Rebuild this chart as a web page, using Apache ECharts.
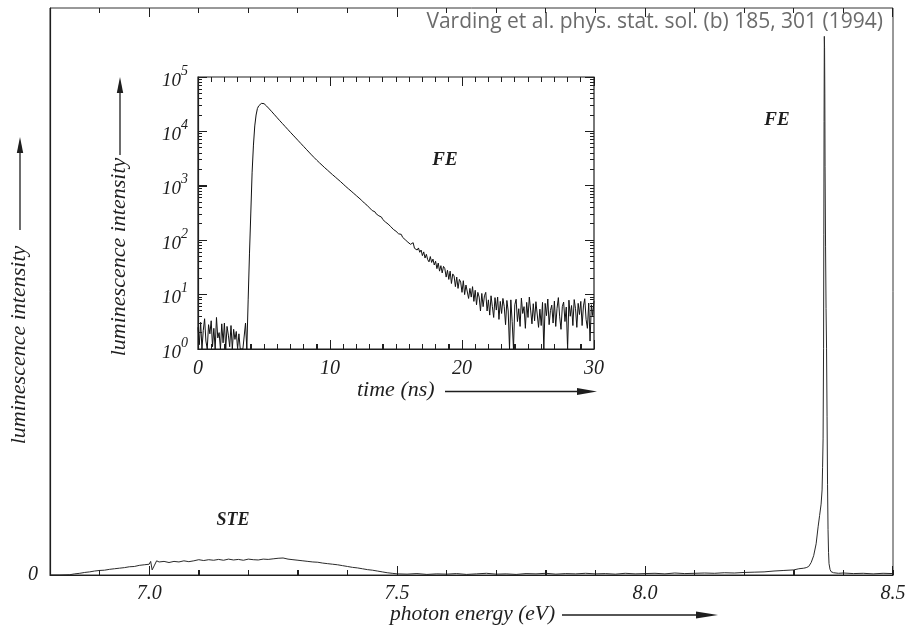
<!DOCTYPE html>
<html>
<head>
<meta charset="utf-8">
<script src="https://cdn.jsdelivr.net/npm/echarts@6/dist/echarts.min.js"></script>
<style>
  html, body { margin: 0; padding: 0; background: #fff; }
  #chart { width: 905px; height: 627px; }
</style>
</head>
<body>
<div id="chart"></div>
<script>
// ---------------- data ----------------
// Main spectrum: photon energy (eV) vs luminescence intensity (arb. units)
const mainEnergy = [
  6.80,6.82,6.84,6.85,6.86,6.87,6.88,6.89,6.90,6.91,
  6.92,6.93,6.94,6.95,6.96,6.97,6.98,6.99,7.00,7.003,
  7.006,7.010,7.015,7.02,7.03,7.04,7.05,7.06,7.07,7.08,
  7.09,7.10,7.11,7.12,7.13,7.14,7.15,7.16,7.17,7.18,
  7.19,7.20,7.21,7.22,7.23,7.24,7.25,7.26,7.27,7.28,
  7.29,7.30,7.31,7.32,7.33,7.34,7.35,7.36,7.37,7.38,
  7.39,7.40,7.41,7.42,7.43,7.44,7.45,7.46,7.47,7.48,
  7.49,7.50,7.52,7.54,7.56,7.58,7.60,7.62,7.64,7.66,
  7.68,7.70,7.72,7.74,7.76,7.78,7.80,7.82,7.84,7.86,
  7.88,7.90,7.92,7.94,7.96,7.98,8.00,8.02,8.04,8.06,
  8.08,8.10,8.12,8.14,8.16,8.18,8.20,8.22,8.24,8.26,
  8.28,8.30,8.31,8.32,8.325,8.33,8.335,8.34,8.345,8.349,
  8.352,8.355,8.357,8.358,8.359,8.360,8.3605,8.361,8.3615,8.362,
  8.3625,8.363,8.364,8.365,8.366,8.367,8.368,8.369,8.370,8.371,
  8.373,8.375,8.38,8.39,8.40,8.42,8.44,8.46,8.48,8.50
];
const mainIntensity = [
  0,0,0.05,0.2,0.3,0.45,0.55,0.7,0.8,0.85,
  1.0,1.1,1.2,1.3,1.45,1.5,1.7,1.8,1.9,2.4,
  0.9,1.6,2.5,2.3,2.4,2.2,2.4,2.3,2.5,2.35,
  2.5,2.7,2.55,2.7,2.6,2.75,2.6,2.8,2.65,2.75,
  2.6,2.8,2.7,2.65,2.8,2.75,2.85,2.95,3.0,2.8,
  2.7,2.6,2.5,2.4,2.3,2.25,2.1,2.0,1.9,1.8,
  1.65,1.5,1.35,1.25,1.1,0.95,0.85,0.7,0.55,0.4,
  0.3,0.2,0.15,0.25,0.1,0.2,0.15,0.25,0.1,0.2,
  0.3,0.15,0.2,0.1,0.25,0.2,0.3,0.15,0.25,0.2,
  0.3,0.2,0.25,0.15,0.3,0.2,0.25,0.3,0.2,0.35,
  0.25,0.3,0.35,0.3,0.4,0.35,0.45,0.5,0.55,0.7,
  0.8,0.9,1.1,1.2,1.3,1.5,2.2,3.4,5.5,8.5,
  10.5,12.5,15,19,24,40,60,80,95,93,
  85,72,58,47,40,28,16,8,4,2,
  1,0.6,0.4,0.3,0.35,0.25,0.3,0.2,0.3,0.25
];

// Inset: FE decay curve, counts per 0.1 ns channel from t = 0 to 30 ns
const insetChannelWidth = 0.1;   // ns
const insetCounts = [
  2.5,1.2,3.1,1.0,2.2,3.6,1.4,1.0,2.8,1.9,
  3.3,1.1,2.4,1.0,3.8,1.6,2.0,1.0,2.9,1.3,
  3.0,1.0,2.6,1.8,1.1,2.7,1.0,2.3,1.5,2.1,
  1.0,1.9,1.0,1.0,1.0,1.0,3.0,1.0,8,56,
  316,1780,5600,12600,20000,26300,29500,31600,32700,33100,
  32400,30900,29200,27500,25900,24300,22900,21500,20200,19000,
  17800,16700,15700,14800,13900,13100,12300,11500,10900,10200,
  9640,9080,8550,8050,7590,7140,6730,6340,5970,5620,
  5300,4990,4700,4430,4170,3930,3700,3490,3300,3120,
  2950,2800,2650,2520,2390,2260,2150,2050,1950,1850,
  1760,1675,1596,1521,1449,1380,1315,1253,1194,1138,
  1075,1030,970,935,880,850,800,772,725,702,
  658,638,596,578,540,522,482,488,440,440,
  392,386,350,352,333,305,302,281,264,266,
  240,242,216,214,198,200,178,183,158,166,
  146,150,131,139,128,113,119,102,106,92,
  99,84,80,90,71,77,66,72,60,66,
  52,61,47,55,44,40,50,39,45,35,
  41,30,38,27,34,25,33,30,21,28,
  19,27,16,24,22,14,21,13,19,17,
  11,18,10,15,16,8.5,13,9,14,7.5,
  12,6.5,11,9,5,10.5,6,9.5,11,5,
  8,4.2,9.5,6,3.8,8.8,5.2,9,3.5,7.5,
  4.5,8.5,6,2.8,7.8,5,1.0,8,3.2,1.0,
  6.5,8.2,3.2,5.5,2.6,8.6,4.5,6.0,2.4,7.2,
  3.8,9.0,5.2,2.9,6.8,3.3,7.4,8.0,2.5,5.4,
  2.7,7.2,1.0,6.9,4.1,8.3,2.8,5.1,6.4,3.0,
  7.6,2.6,5.6,8.8,3.9,2.3,6.0,7.3,3.2,5.9,
  1.0,7.9,4.0,6.3,2.7,8.1,5.5,2.5,6.9,4.3,
  7.5,2.7,6.2,8.4,3.5,2.4,7.0,1.4,6.5,4.1,
  7.7
];

// tick labels
const mainXTicks = [7.0, 7.5, 8.0, 8.5];
const mainYTicks = [0];
const insetXTicks = [0, 10, 20, 30];
const insetDecades = [1, 10, 100, 1000, 10000, 100000];

// ---------------- build ----------------
const mainData = mainEnergy.map((e, i) => [e, mainIntensity[i]]);
const insetData = insetCounts.map((c, i) => [+(i * insetChannelWidth).toFixed(2), c]);

// tick mark lists: [x, y, length]
const mainTickMarks = [];
for (let k = 68; k <= 85; k++) mainTickMarks.push([k / 10, 0, 5]);
mainXTicks.forEach(v => mainTickMarks.push([v, 0, 9]));
const insetXTickMarks = [];
for (let k = 0; k <= 30; k++) insetXTickMarks.push([k, 1, 5]);
insetXTicks.forEach(v => insetXTickMarks.push([v, 1, 9]));
const insetYTickMarks = [];
insetDecades.slice(0, -1).forEach(d => { for (let k = 2; k < 10; k++) insetYTickMarks.push([0, d * k, 4]); });
insetDecades.forEach(v => insetYTickMarks.push([0, v, 9]));

const serif = "'Liberation Serif', 'DejaVu Serif', serif";
const ink = '#1e1e1e';
const tickFont = { fontFamily: serif, fontStyle: 'italic', fontSize: 20, color: ink };

// vertical tick marks (filled 1px rects) at bottom & top of a grid, pointing inward
function xTickRenderer(yBottom, yTop) {
  return function (params, api) {
    const v = api.value(0), len = api.value(2);
    const pb = api.coord([v, yBottom]), pt = api.coord([v, yTop]);
    const x = Math.floor(pb[0]);
    return { type: 'group', children: [
      { type: 'rect', shape: { x: x, y: pb[1] - len, width: 1, height: len }, style: { fill: ink } },
      { type: 'rect', shape: { x: x, y: pt[1], width: 1, height: len }, style: { fill: ink } }
    ] };
  };
}
// horizontal tick marks at left & right of a grid, pointing inward
function yTickRenderer(xLeft, xRight) {
  return function (params, api) {
    const v = api.value(1), len = api.value(2);
    const pl = api.coord([xLeft, v]), pr = api.coord([xRight, v]);
    const y = Math.floor(pl[1]);
    return { type: 'group', children: [
      { type: 'rect', shape: { x: pl[0], y: y, width: len, height: 1 }, style: { fill: ink } },
      { type: 'rect', shape: { x: pr[0] - len, y: y, width: len, height: 1 }, style: { fill: ink } }
    ] };
  };
}

const option = {
  animation: false,
  backgroundColor: '#fff',
  grid: [
    { left: 50, top: 8, right: 12, bottom: 52, show: true, borderColor: '#333', borderWidth: 1, backgroundColor: 'transparent', containLabel: false, outerBoundsMode: 'none' },
    { left: 198, top: 77, width: 396, height: 272, show: true, borderColor: ink, borderWidth: 1.2, backgroundColor: 'transparent', containLabel: false, outerBoundsMode: 'none' }
  ],
  xAxis: [
    {
      type: 'value', gridIndex: 0, min: 6.8, max: 8.5, interval: 0.1,
      axisLine: { show: true, onZero: false, lineStyle: { color: ink, width: 1.2 } },
      axisTick: { show: true, inside: true, length: 5, lineStyle: { color: ink, width: 1 } },
      axisLabel: Object.assign({ show: true, customValues: mainXTicks, margin: 9, formatter: v => v.toFixed(1) }, tickFont),
      splitLine: { show: false }
    },
    {
      type: 'value', gridIndex: 1, min: 0, max: 30, interval: 1,
      axisLine: { show: true, onZero: false, lineStyle: { color: ink, width: 1.2 } },
      axisTick: { show: true, inside: true, length: 5, lineStyle: { color: ink, width: 1 } },
      axisLabel: Object.assign({ show: true, customValues: insetXTicks, margin: 10 }, tickFont),
      splitLine: { show: false }
    }
  ],
  yAxis: [
    {
      type: 'value', gridIndex: 0, min: 0, max: 100,
      axisLine: { show: true, onZero: false, lineStyle: { color: ink, width: 1.2 } },
      axisTick: { show: false },
      axisLabel: Object.assign({ show: true, customValues: mainYTicks, margin: 12 }, tickFont),
      splitLine: { show: false }
    },
    {
      type: 'log', logBase: 10, gridIndex: 1, min: 1, max: 100000,
      axisLine: { show: true, onZero: false, lineStyle: { color: ink, width: 1.2 } },
      axisTick: { show: true, inside: true, length: 9, lineStyle: { color: ink, width: 1 } },
      minorTick: { show: false }, splitLine: { show: false },
      axisLabel: {
        show: true, customValues: insetDecades, margin: 10,
        formatter: v => '{b|10}{s|' + Math.round(Math.log10(v)) + '}',
        rich: {
          b: { fontFamily: serif, fontStyle: 'italic', fontSize: 19, color: ink, lineHeight: 26, verticalAlign: 'bottom' },
          s: { fontFamily: serif, fontStyle: 'italic', fontSize: 14, color: ink, lineHeight: 16, verticalAlign: 'top' }
        }
      }
    }
  ],
  series: [
    { type: 'line', xAxisIndex: 0, yAxisIndex: 0, data: mainData, showSymbol: false, symbol: 'none',
      lineStyle: { color: '#2a2a2a', width: 1 }, z: 3 },
    { type: 'line', xAxisIndex: 1, yAxisIndex: 1, data: insetData, showSymbol: false, symbol: 'none',
      lineStyle: { color: '#111', width: 1 }, z: 3 },
    { type: 'custom', xAxisIndex: 0, yAxisIndex: 0, data: mainTickMarks, renderItem: xTickRenderer(0, 100), clip: false, silent: true, z: 4 },
    { type: 'custom', xAxisIndex: 1, yAxisIndex: 1, data: insetXTickMarks, renderItem: xTickRenderer(1, 100000), clip: false, silent: true, z: 4 },
    { type: 'custom', xAxisIndex: 1, yAxisIndex: 1, data: insetYTickMarks, renderItem: yTickRenderer(0, 30), clip: false, silent: true, z: 4 }
  ],
  graphic: [
    { type: 'text', x: 883, y: 22, style: { text: 'Varding et al. phys. stat. sol. (b) 185, 301 (1994)', align: 'right', verticalAlign: 'middle', font: "21px 'Open Sans'", fill: '#6b6b6b' } },
    { type: 'text', x: 777, y: 120, style: { text: 'FE', align: 'center', verticalAlign: 'middle', font: "italic bold 19px " + serif, fill: ink } },
    { type: 'text', x: 445, y: 160, style: { text: 'FE', align: 'center', verticalAlign: 'middle', font: "italic bold 19px " + serif, fill: ink } },
    { type: 'text', x: 233, y: 520, style: { text: 'STE', align: 'center', verticalAlign: 'middle', font: "italic bold 18px " + serif, fill: ink } },
    { type: 'text', x: 19, y: 345, rotation: Math.PI / 2, style: { text: 'luminescence intensity', align: 'center', verticalAlign: 'middle', font: "italic 22px " + serif, fill: ink } },
    { type: 'line', shape: { x1: 20, y1: 230, x2: 20, y2: 148 }, style: { stroke: ink, lineWidth: 1.3 } },
    { type: 'polygon', shape: { points: [[20, 137], [16.8, 153], [23.2, 153]] }, style: { fill: ink } },
    { type: 'text', x: 119, y: 257, rotation: Math.PI / 2, style: { text: 'luminescence intensity', align: 'center', verticalAlign: 'middle', font: "italic 22px " + serif, fill: ink } },
    { type: 'line', shape: { x1: 120, y1: 155, x2: 120, y2: 88 }, style: { stroke: ink, lineWidth: 1.3 } },
    { type: 'polygon', shape: { points: [[120, 77], [116.8, 93], [123.2, 93]] }, style: { fill: ink } },
    { type: 'text', x: 390, y: 614, style: { text: 'photon energy (eV)', align: 'left', verticalAlign: 'middle', font: "italic 21.5px " + serif, fill: ink } },
    { type: 'line', shape: { x1: 562, y1: 615, x2: 700, y2: 615 }, style: { stroke: ink, lineWidth: 1.3 } },
    { type: 'polygon', shape: { points: [[718, 615], [696, 611.5], [696, 618.5]] }, style: { fill: ink } },
    { type: 'text', x: 357, y: 390, style: { text: 'time (ns)', align: 'left', verticalAlign: 'middle', font: "italic 22px " + serif, fill: ink } },
    { type: 'line', shape: { x1: 445, y1: 391.5, x2: 580, y2: 391.5 }, style: { stroke: ink, lineWidth: 1.3 } },
    { type: 'polygon', shape: { points: [[597, 391.5], [577, 388], [577, 395]] }, style: { fill: ink } }
  ]
};

const chart = echarts.init(document.getElementById('chart'));
chart.setOption(option);
</script>
</body>
</html>
